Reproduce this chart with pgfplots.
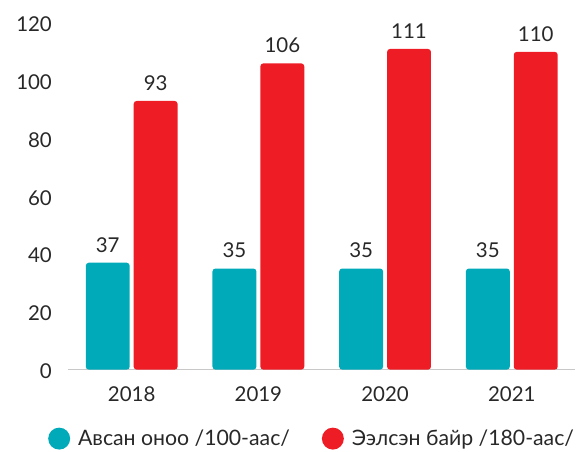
\documentclass[border=0pt]{standalone}
\usepackage{pgfplots}
\pgfplotsset{compat=1.18}
\usepackage{fontspec}
\setmainfont{Lato}
\definecolor{tealc}{RGB}{0,170,185}
\definecolor{redc}{RGB}{238,29,37}
\definecolor{txt}{RGB}{40,40,40}
\definecolor{axc}{RGB}{200,200,200}
\begin{document}
\begin{tikzpicture}
\begin{axis}[
  scale only axis,
  width=508pt, height=347.5pt,
  xmin=-0.5, xmax=3.5, ymin=0, ymax=120,
  ybar=4pt, bar width=44pt,
  xtick={0,1,2,3}, xticklabels={2018,2019,2020,2021},
  ytick={0,20,40,60,80,100,120},
  axis x line*=bottom, axis y line*=left,
  x axis line style={draw=axc, line width=1pt, -},
  y axis line style={draw=none},
  major tick length=0pt,
  tick label style={font=\fontsize{20.5}{24}\selectfont, text=txt},
  /pgf/number format/assume math mode=true,
  yticklabel style={xshift=-13pt, yshift=-1.5pt},
  xticklabel style={yshift=-14pt},
  nodes near coords,
  every node near coord/.append style={font=\fontsize{20.5}{24}\selectfont, text=txt, yshift=7pt},
  legend style={draw=none, fill=none, at={(0.481,-0.199)}, anchor=center,
    legend columns=2, font=\fontsize{21.3}{24}\selectfont, text=txt,
    /tikz/every odd column/.append style={column sep=6pt},
    /tikz/every even column/.append style={column sep=30pt}},
  legend image code/.code={\fill[#1] (0.1cm,0cm) circle (11pt);},
  clip=false,
]
\addplot[draw=none, fill=tealc, rounded corners=3pt] coordinates {(0,37) (1,35) (2,35) (3,35)};
\addplot[draw=none, fill=redc, rounded corners=3pt] coordinates {(0,93) (1,106) (2,111) (3,110)};
\legend{Авсан оноо /100-аас/, Ээлсэн байр /180-аас/}
\end{axis}
\path (current axis.south west) ++(-68.5pt,-80.5pt) rectangle ++(579pt,451pt);
\end{tikzpicture}
\end{document}
